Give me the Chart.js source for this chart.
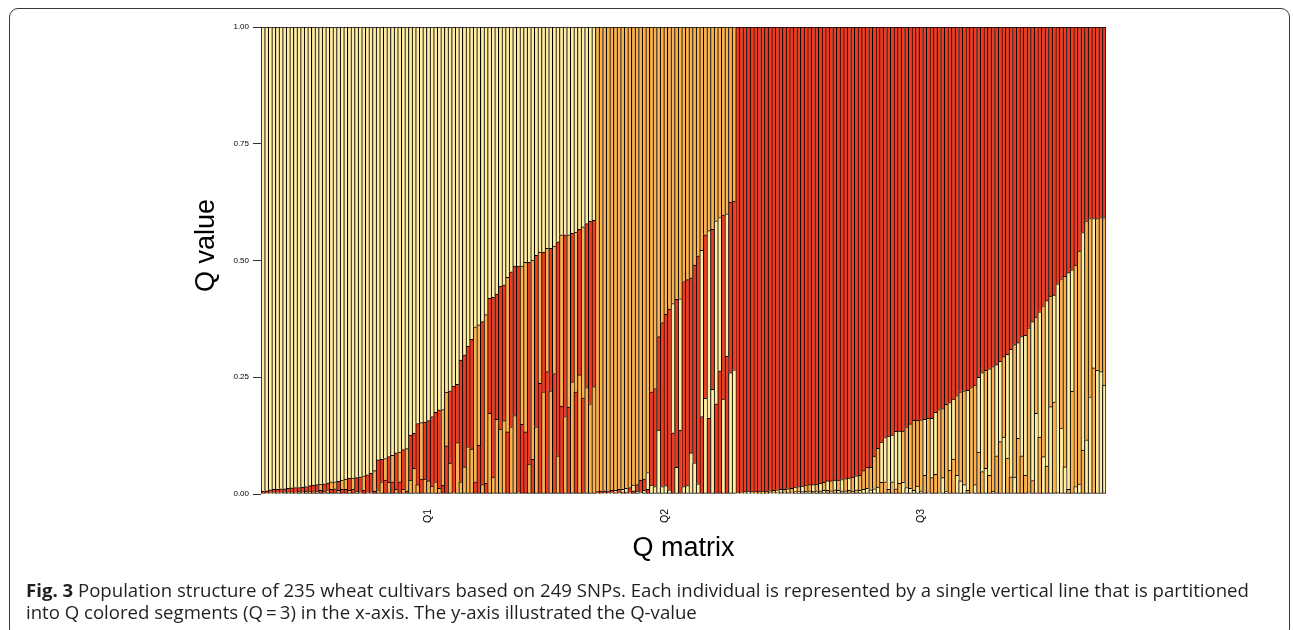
<!DOCTYPE html>
<html>
<head>
<meta charset="utf-8">
<title>Q matrix</title>
<script src="https://cdn.jsdelivr.net/npm/chart.js@4.4.1/dist/chart.umd.min.js"></script>
<style>
	html, body { margin: 0; padding: 0; background: #fff; overflow: hidden; }
	#page { position: relative; width: 1293px; height: 630px; }
	#frame {
		position: absolute; left: 9px; top: 8px; width: 1281px; height: 630px;
		border: 1.5px solid #3a3a3a; border-radius: 9px; box-sizing: border-box;
	}
	#chart { position: absolute; left: 0; top: 0; }
	#caption {
		position: absolute; left: 26px; top: 579px; white-space: nowrap;
		font-family: 'Open Sans', sans-serif; font-size: 18.6px; line-height: 22px; color: #231f20;
	}
</style>
</head>
<body>
<div id="page">
	<div id="frame"></div>
	<canvas id="chart" width="1293" height="630"></canvas>
	<div id="caption"><b>Fig. 3</b> Population structure of 235 wheat cultivars based on 249 SNPs. Each individual is represented by a single vertical line that is partitioned<br>into Q colored segments (Q&#8201;=&#8201;3) in the x-axis. The y-axis illustrated the Q-value</div>
</div>
<script>
/* globals Chart:false */

// membership of each cultivar in the three clusters, in plot order
let yellowQ = [
	.994,.993,.991,.990,.990,.989,.989,.988,.987,.986,
	.986,.985,.984,.982,.981,.980,.979,.978,.976,.974,
	.974,.973,.970,.968,.966,.966,.965,.963,.961,.959,
	.956,.950,.927,.926,.924,.920,.917,.912,.910,.905,
	.903,.874,.870,.849,.847,.846,.843,.834,.825,.820,
	.819,.782,.779,.769,.765,.713,.702,.684,.669,.642,
	.638,.631,.616,.581,.579,.572,.555,.552,.536,.524,
	.512,.512,.512,.504,.504,.499,.489,.482,.482,.474,
	.474,.469,.460,.445,.445,.445,.442,.439,.433,.428,
	.421,.416,.414,
	.002,.002,.002,.003,.003,.005,.003,.006,.008,.004,
	.012,.006,.003,.008,.036,.019,.016,.137,.016,.018,
	.009,.277,.057,.281,.016,.018,.088,.067,.022,.356,
	.205,.402,.224,.392,.328,.203,.305,.260,.266,
	.001,.002,.002,.003,.002,.002,.002,.004,.002,.003,
	.003,.006,.006,.004,.007,.004,.010,.005,.012,.006,
	.007,.014,.007,.016,.008,.020,.007,.021,.008,.024,
	.007,.026,.006,.030,.008,.010,.012,.009,.011,.015,
	.086,.095,.114,.100,.123,.112,.025,.014,.012,.008,
	.017,.007,.120,.004,.127,.133,.004,.035,.005,.145,
	.128,.040,.028,.020,.214,.004,.020,.160,.212,.055,
	.228,.006,.195,.172,.122,.222,.273,.036,.205,.255,
	.300,.004,.340,.173,.268,.080,.354,.187,.229,.446,
	.141,.058,.464,.260,.016,.021,.466,.116,.208,.320,
	.265,.262,.233
];
let orangeQ = [
	.002,.002,.003,.003,.004,.003,.004,.004,.004,.004,
	.006,.004,.006,.005,.007,.005,.013,.006,.009,.016,
	.015,.008,.020,.022,.008,.024,.005,.004,.031,.004,
	.004,.044,.009,.026,.046,.025,.057,.010,.064,.010,
	.090,.030,.055,.020,.121,.032,.028,.017,.026,.012,
	.162,.115,.066,.004,.110,.026,.058,.101,.096,.332,
	.257,.020,.361,.173,.036,.160,.139,.157,.331,.144,
	.168,.004,.339,.363,.064,.427,.144,.281,.219,.264,
	.221,.273,.082,.367,.166,.369,.240,.342,.255,.366,
	.228,.193,.230,
	.995,.994,.993,.993,.992,.992,.990,.990,.988,.986,
	.981,.980,.970,.968,.954,.781,.774,.663,.633,.615,
	.604,.592,.583,.582,.545,.541,.537,.510,.490,.478,
	.445,.436,.433,.415,.408,.403,.400,.375,.373,
	.003,.002,.003,.002,.003,.003,.004,.002,.004,.004,
	.005,.003,.004,.006,.004,.008,.005,.011,.005,.013,
	.013,.006,.014,.007,.017,.008,.021,.009,.022,.007,
	.026,.008,.030,.009,.032,.040,.045,.048,.070,.083,
	.025,.026,.010,.026,.011,.023,.110,.130,.138,.150,
	.141,.152,.040,.158,.035,.042,.177,.148,.187,.051,
	.075,.171,.191,.201,.008,.224,.213,.090,.048,.210,
	.040,.267,.082,.112,.172,.077,.037,.284,.119,.082,
	.040,.352,.029,.206,.122,.323,.060,.237,.197,.004,
	.320,.408,.010,.220,.474,.499,.094,.469,.382,.270,
	.325,.330,.359
];
let redQ = [
	.004,.005,.006,.007,.006,.008,.007,.008,.009,.010,
	.008,.011,.010,.013,.012,.015,.008,.016,.015,.010,
	.011,.019,.010,.010,.026,.010,.030,.033,.008,.037,
	.040,.006,.064,.048,.030,.055,.026,.078,.026,.085,
	.007,.096,.075,.131,.032,.122,.129,.149,.149,.168,
	.019,.103,.155,.227,.125,.261,.240,.215,.235,.026,
	.105,.349,.023,.246,.385,.268,.306,.291,.133,.332,
	.320,.484,.149,.133,.432,.074,.367,.237,.299,.262,
	.305,.258,.458,.188,.389,.186,.318,.219,.312,.206,
	.351,.391,.356,
	.003,.004,.005,.004,.005,.003,.007,.004,.004,.010,
	.007,.014,.027,.024,.010,.200,.210,.200,.351,.367,
	.387,.131,.360,.137,.439,.441,.375,.423,.488,.166,
	.350,.162,.343,.193,.264,.394,.295,.365,.361,
	.996,.996,.995,.995,.995,.995,.994,.994,.994,.993,
	.992,.991,.990,.990,.989,.988,.985,.984,.983,.981,
	.980,.980,.979,.977,.975,.972,.972,.970,.970,.969,
	.967,.966,.964,.961,.960,.950,.943,.943,.919,.902,
	.889,.879,.876,.874,.866,.865,.865,.856,.850,.842,
	.842,.841,.840,.838,.838,.825,.819,.817,.808,.804,
	.797,.789,.781,.779,.778,.772,.767,.750,.740,.735,
	.732,.727,.723,.716,.706,.701,.690,.680,.676,.663,
	.660,.644,.631,.621,.610,.597,.586,.576,.574,.550,
	.539,.534,.526,.520,.510,.480,.440,.415,.410,.410,
	.410,.408,.408
];

let groupLabels = ['Q1', 'Q2', 'Q3'];
let groupSizes = [93, 39, 103];
let yTicks = [0, 0.25, 0.5, 0.75, 1];
let clusterColors = ['#FFEDA0', '#FEB24C', '#F03B20'];

let cultivars = yellowQ.map((v, i) => 'C' + (i + 1));

// which group every cultivar belongs to, and where the group label goes
let groupOf = [];
let labelAt = {};
let start = 0;
groupSizes.forEach((size, g) => {
	for (let i = 0; i < size; i++) groupOf.push(g);
	labelAt[start + Math.floor(size / 2)] = groupLabels[g];
	start += size;
});

// each bar: its own cluster on top, the other two sorted small -> large from the bottom
let layers = [[], [], []];
let layerColors = [[], [], []];
cultivars.forEach((c, i) => {
	let vals = [yellowQ[i], orangeQ[i], redQ[i]];
	let g = groupOf[i];
	let rest = [0, 1, 2].filter(k => k !== g).sort((a, b) => vals[a] - vals[b]);
	let order = [rest[0], rest[1], g];
	order.forEach((k, layer) => {
		layers[layer].push(vals[k]);
		layerColors[layer].push(clusterColors[k]);
	});
});

let last = cultivars.length - 1;
let datasets = layers.map((data, layer) => ({
	label: 'layer ' + layer,
	data: data,
	backgroundColor: layerColors[layer],
	borderColor: '#000',
	borderSkipped: false,
	borderWidth: (ctx) => ({
		top: 1,
		left: 1.1,
		right: ctx.dataIndex === last ? 1 : 0,
		bottom: layer === 0 ? 1 : 0
	}),
	barPercentage: 1,
	categoryPercentage: 1
}));

let chartJson = {
	type: 'bar',
	data: {
		labels: cultivars,
		datasets: datasets
	},
	options: {
		responsive: false,
		animation: false,
		devicePixelRatio: 1,
		layout: {
			padding: { left: 190, top: 27, right: 187, bottom: 65 }
		},
		plugins: {
			legend: { display: false },
			tooltip: { enabled: false }
		},
		scales: {
			x: {
				stacked: true,
				grid: { display: false },
				border: { display: false },
				ticks: {
					autoSkip: false,
					minRotation: 90,
					maxRotation: 90,
					padding: 7,
					color: '#000',
					font: { family: 'Liberation Sans', size: 10.5 },
					callback: (value, index) => labelAt[index] || ''
				},
				title: {
					display: true,
					text: 'Q matrix',
					color: '#000',
					padding: 0,
					font: { family: 'Liberation Sans', size: 27 }
				},
				afterFit: (scale) => { scale.height = 71; }
			},
			y: {
				stacked: true,
				min: 0,
				max: 1,
				afterBuildTicks: (scale) => { scale.ticks = yTicks.map(v => ({ value: v })); },
				grid: { drawOnChartArea: false, tickLength: 8, color: '#333' },
				border: { display: false },
				ticks: {
					padding: 4,
					color: '#000',
					font: { family: 'Liberation Sans', size: 8 },
					callback: (value) => value.toFixed(2)
				},
				title: {
					display: true,
					// leading spaces lift the title a little above the axis middle, as in the original
					text: '    Q value',
					color: '#000',
					padding: 0,
					font: { family: 'Liberation Sans', size: 27 }
				},
				afterFit: (scale) => { scale.width = 71; }
			}
		}
	}
};

const ctx = document.getElementById('chart');
// eslint-disable-next-line no-unused-vars
const myChart = new Chart(ctx, chartJson);
</script>
</body>
</html>
